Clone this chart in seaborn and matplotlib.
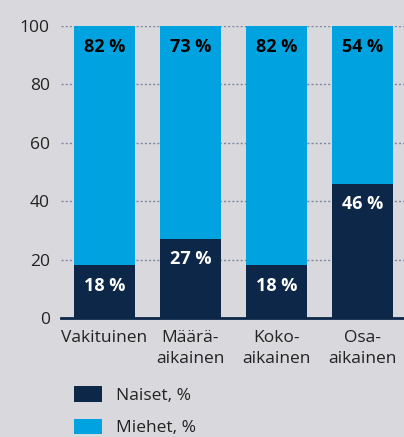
import matplotlib
matplotlib.use("Agg")
import matplotlib.pyplot as plt
import seaborn as sns
import pandas as pd
from matplotlib.patches import Patch

categories = ["Vakituinen", "Määrä-\naikainen", "Koko-\naikainen", "Osa-\naikainen"]
naiset = [18, 27, 18, 46]
miehet = [82, 73, 82, 54]
yticks = [0, 20, 40, 60, 80, 100]

BG = "#d9d8dd"
DARK = "#0c2748"
LIGHT = "#00a3e0"

sns.set_theme(style="white")
plt.rcParams["font.family"] = ["Open Sans", "DejaVu Sans"]

df = pd.DataFrame({"cat": categories, "Naiset": naiset, "Miehet": miehet})
df["total"] = df["Naiset"] + df["Miehet"]

fig = plt.figure(figsize=(4.04, 4.37), dpi=100, facecolor=BG)
ax = fig.add_axes([61 / 404, 119 / 437, 1 - 61 / 404, (318 - 26) / 437])
ax.set_facecolor(BG)

for y in yticks[1:]:
    ax.axhline(y, color="#7d88a3", lw=1.0, ls=(0, (1.5, 1.5)), zorder=0)

sns.barplot(data=df, x="cat", y="total", color=LIGHT, width=0.71, ax=ax,
            saturation=1, linewidth=0, zorder=2)
sns.barplot(data=df, x="cat", y="Naiset", color=DARK, width=0.71, ax=ax,
            saturation=1, linewidth=0, zorder=3)

for i, (n, m) in enumerate(zip(naiset, miehet)):
    ax.annotate(f"{m} %", xy=(i, n + m), xytext=(0, -15), textcoords="offset points",
                ha="center", va="center", fontsize=13, fontweight="bold",
                color="black", zorder=5)
    ax.annotate(f"{n} %", xy=(i, n), xytext=(0, -14.5), textcoords="offset points",
                ha="center", va="center", fontsize=13, fontweight="bold",
                color="white", zorder=5)

ax.set_xlim(-0.506, 3.483)
ax.set_ylim(0, 100)
ax.set_yticks(yticks)
ax.set_xlabel("")
ax.set_ylabel("")
ax.tick_params(axis="both", length=0, labelsize=12.5, colors="#222222")
ax.tick_params(axis="y", pad=8)
ax.tick_params(axis="x", pad=9)
for lbl in ax.get_xticklabels():
    lbl.set_linespacing(1.4)
for s in ["top", "right", "left"]:
    ax.spines[s].set_visible(False)
ax.spines["bottom"].set_color(DARK)
ax.spines["bottom"].set_linewidth(2)
ax.spines["bottom"].set_zorder(6)

handles = [Patch(facecolor=DARK, edgecolor="none", label="Naiset, %"),
           Patch(facecolor=LIGHT, edgecolor="none", label="Miehet, %")]
fig.legend(handles=handles, loc="upper left", bbox_to_anchor=(69 / 404, 1 - 381 / 437),
           frameon=False, fontsize=12.5, handlelength=1.6, handleheight=1.0,
           handletextpad=0.8, labelspacing=0.85, labelcolor="#222222",
           borderaxespad=0, borderpad=0.3)

fig.savefig("out.png", dpi=100, facecolor=BG)
